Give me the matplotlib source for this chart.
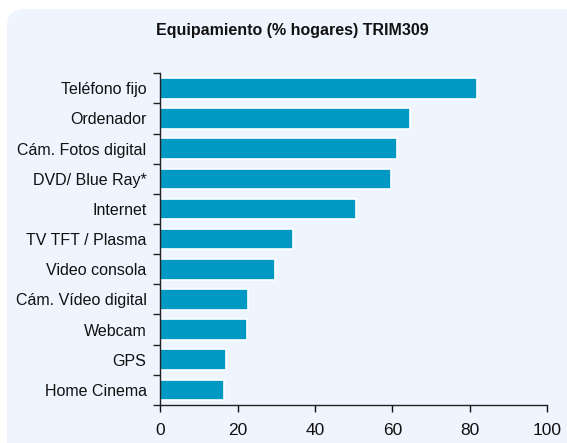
import matplotlib.pyplot as plt
import numpy as np
from matplotlib.patches import FancyBboxPatch

plt.rcParams['font.family'] = ['Liberation Sans', 'DejaVu Sans']

categories = ['Teléfono fijo', 'Ordenador', 'Cám. Fotos digital', 'DVD/ Blue Ray*',
              'Internet', 'TV TFT / Plasma', 'Video consola', 'Cám. Vídeo digital',
              'Webcam', 'GPS', 'Home Cinema']
values = [81.9, 64.6, 61.2, 59.5, 50.5, 34.4, 29.6, 22.6, 22.3, 16.9, 16.4]
xticks = [0, 20, 40, 60, 80, 100]

fig = plt.figure(figsize=(5.67, 4.43), dpi=100)
fig.patch.set_facecolor('white')

# rounded light blue panel behind everything
panel = FancyBboxPatch((7 / 567, -0.1), 1.2, 1.1 - 9 / 443,
                       boxstyle='round,pad=0,rounding_size=0.035',
                       transform=fig.transFigure, facecolor='#EEF5FE',
                       edgecolor='none', zorder=-5)
fig.patches.append(panel)

ax = fig.add_axes([0.283, 0.0858, 0.682, 0.749])
ax.set_zorder(2)
ax.set_facecolor('none')

y = np.arange(len(categories))
ax.barh(y, values, height=0.68, color='#0099C4', edgecolor='white', linewidth=1.2)

ax.set_xlim(0, 100)
ax.set_ylim(len(categories) - 0.5, -0.5)
ax.set_xticks(xticks)
ax.set_yticks(y)
ax.set_yticklabels(categories)
ax.set_yticks(np.arange(-0.5, len(categories), 1), minor=True)
ax.tick_params(axis='y', which='major', length=0, pad=10, labelsize=11.5, colors='#111111')
ax.tick_params(axis='y', which='minor', length=5, width=1, color='#222222')
ax.tick_params(axis='x', length=5, width=1, labelsize=12.5, pad=8, colors='#111111')

for s in ['top', 'right']:
    ax.spines[s].set_visible(False)
for s in ['left', 'bottom']:
    ax.spines[s].set_color('#222222')
    ax.spines[s].set_linewidth(1)

fig.text(0.515, 1 - 30 / 443, 'Equipamiento (% hogares) TRIM309', ha='center', va='center',
         fontsize=11.5, fontweight='bold', color='#111111')

fig.savefig('out.png', dpi=100)
